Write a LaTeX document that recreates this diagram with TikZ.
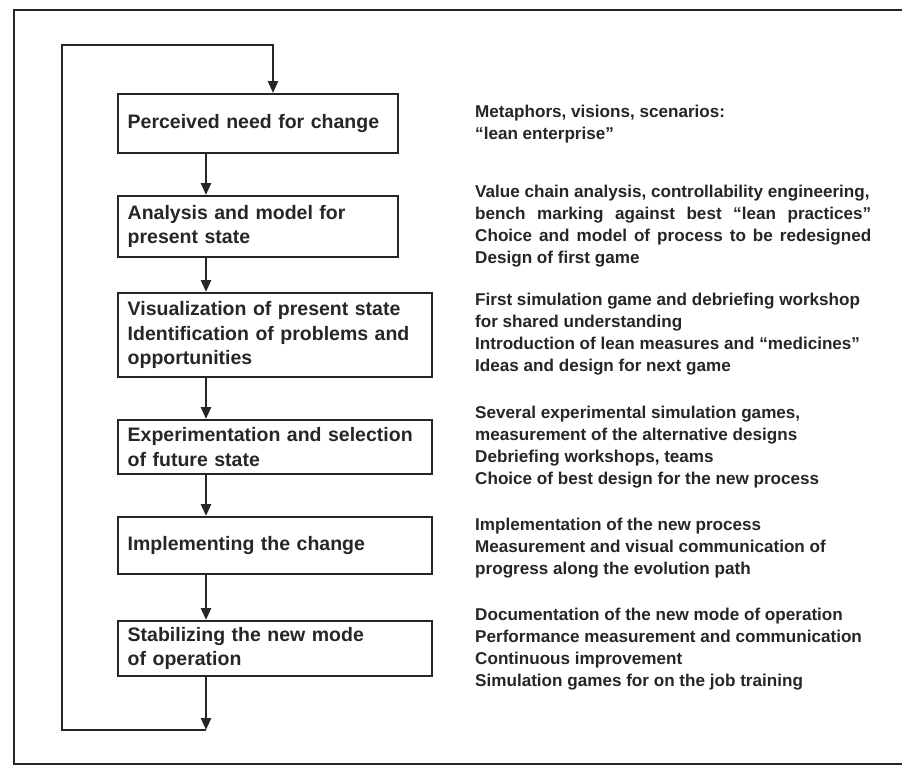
\documentclass[tikz,border=0pt]{standalone}
\usepackage{fontspec}
\setmainfont{Liberation Sans}
\usetikzlibrary{arrows.meta}
\definecolor{ink}{RGB}{38,38,38}
\begin{document}
\begin{tikzpicture}[x=1pt,y=-1pt,
  rule/.style={draw=ink, line width=2.4pt, line join=miter},
  arr/.style={rule, -{Triangle[width=10pt,length=12pt]}},
  stage/.style={draw=ink, line width=2.4pt, rectangle, inner xsep=10pt,
    inner ysep=0pt, align=left, anchor=north west, text=ink,
    font=\fontsize{19.5}{24.5}\selectfont\bfseries},
  % notes are placed by the baseline of their last line
  note/.style={anchor=base west, inner sep=0pt, align=left, text=ink,
    font=\fontsize{17.1}{22}\selectfont\bfseries}]
\useasboundingbox (0,0) rectangle (902,771);
\fill[white] (0,0) rectangle (902,771);

% open frame around the whole chart
\draw[rule, line width=2.6pt] (902,10) -- (14,10) -- (14,764) -- (902,764);

% stages of the change process
\node[stage, text width=260pt, minimum height=59pt] (s1) at (116.5,93)
  {Perceived need for change};
\node[stage, text width=260pt, minimum height=61pt] (s2) at (116.5,195)
  {Analysis and model for\\present state};
\node[stage, text width=294pt, minimum height=84pt] (s3) at (116.5,292)
  {Visualization of present state\\Identification of problems and\\opportunities};
\node[stage, text width=294pt, minimum height=54pt] (s4) at (116.5,419)
  {Experimentation and selection\\of future state};
\node[stage, text width=294pt, minimum height=57pt] (s5) at (116.5,516)
  {Implementing the change};
\node[stage, text width=294pt, minimum height=55pt] (s6) at (116.5,620)
  {Stabilizing the new mode\\of operation};

% flow between the stages
\coordinate (spine) at (206,0);
\draw[arr] (s1.south -| spine) -- (s2.north -| spine);
\draw[arr] (s2.south -| spine) -- (s3.north -| spine);
\draw[arr] (s3.south -| spine) -- (s4.north -| spine);
\draw[arr] (s4.south -| spine) -- (s5.north -| spine);
\draw[arr] (s5.south -| spine) -- (s6.north -| spine);

% feedback loop back to the first stage
\coordinate (loopend) at (206,730);
\coordinate (loopbl) at (62,730);
\coordinate (looptl) at (62,45);
\coordinate (looptr) at (273,45);
\draw[arr] (s6.south -| spine) -- (loopend);
\draw[arr] (loopend) -- (loopbl) -- (looptl) -- (looptr) -- (s1.north -| looptr);

% methods used at each stage
\node[note] (m1) at (475,139)
  {Metaphors, visions, scenarios:\\``lean enterprise''};
\node[note] (m2) at (475,263)
  {Value chain analysis, controllability engineering,\\
   \makebox[396pt][s]{bench marking against best ``lean practices''}\\
   \makebox[396pt][s]{Choice and model of process to be redesigned}\\
   Design of first game};
\node[note] (m3) at (475,371)
  {First simulation game and debriefing workshop\\for shared understanding\\
   Introduction of lean measures and ``medicines''\\Ideas and design for next game};
\node[note] (m4) at (475,484)
  {Several experimental simulation games,\\measurement of the alternative designs\\
   Debriefing workshops, teams\\Choice of best design for the new process};
\node[note] (m5) at (475,574)
  {Implementation of the new process\\Measurement and visual communication of\\
   progress along the evolution path};
\node[note] (m6) at (475,686)
  {Documentation of the new mode of operation\\Performance measurement and communication\\
   Continuous improvement\\Simulation games for on the job training};
\end{tikzpicture}
\end{document}
